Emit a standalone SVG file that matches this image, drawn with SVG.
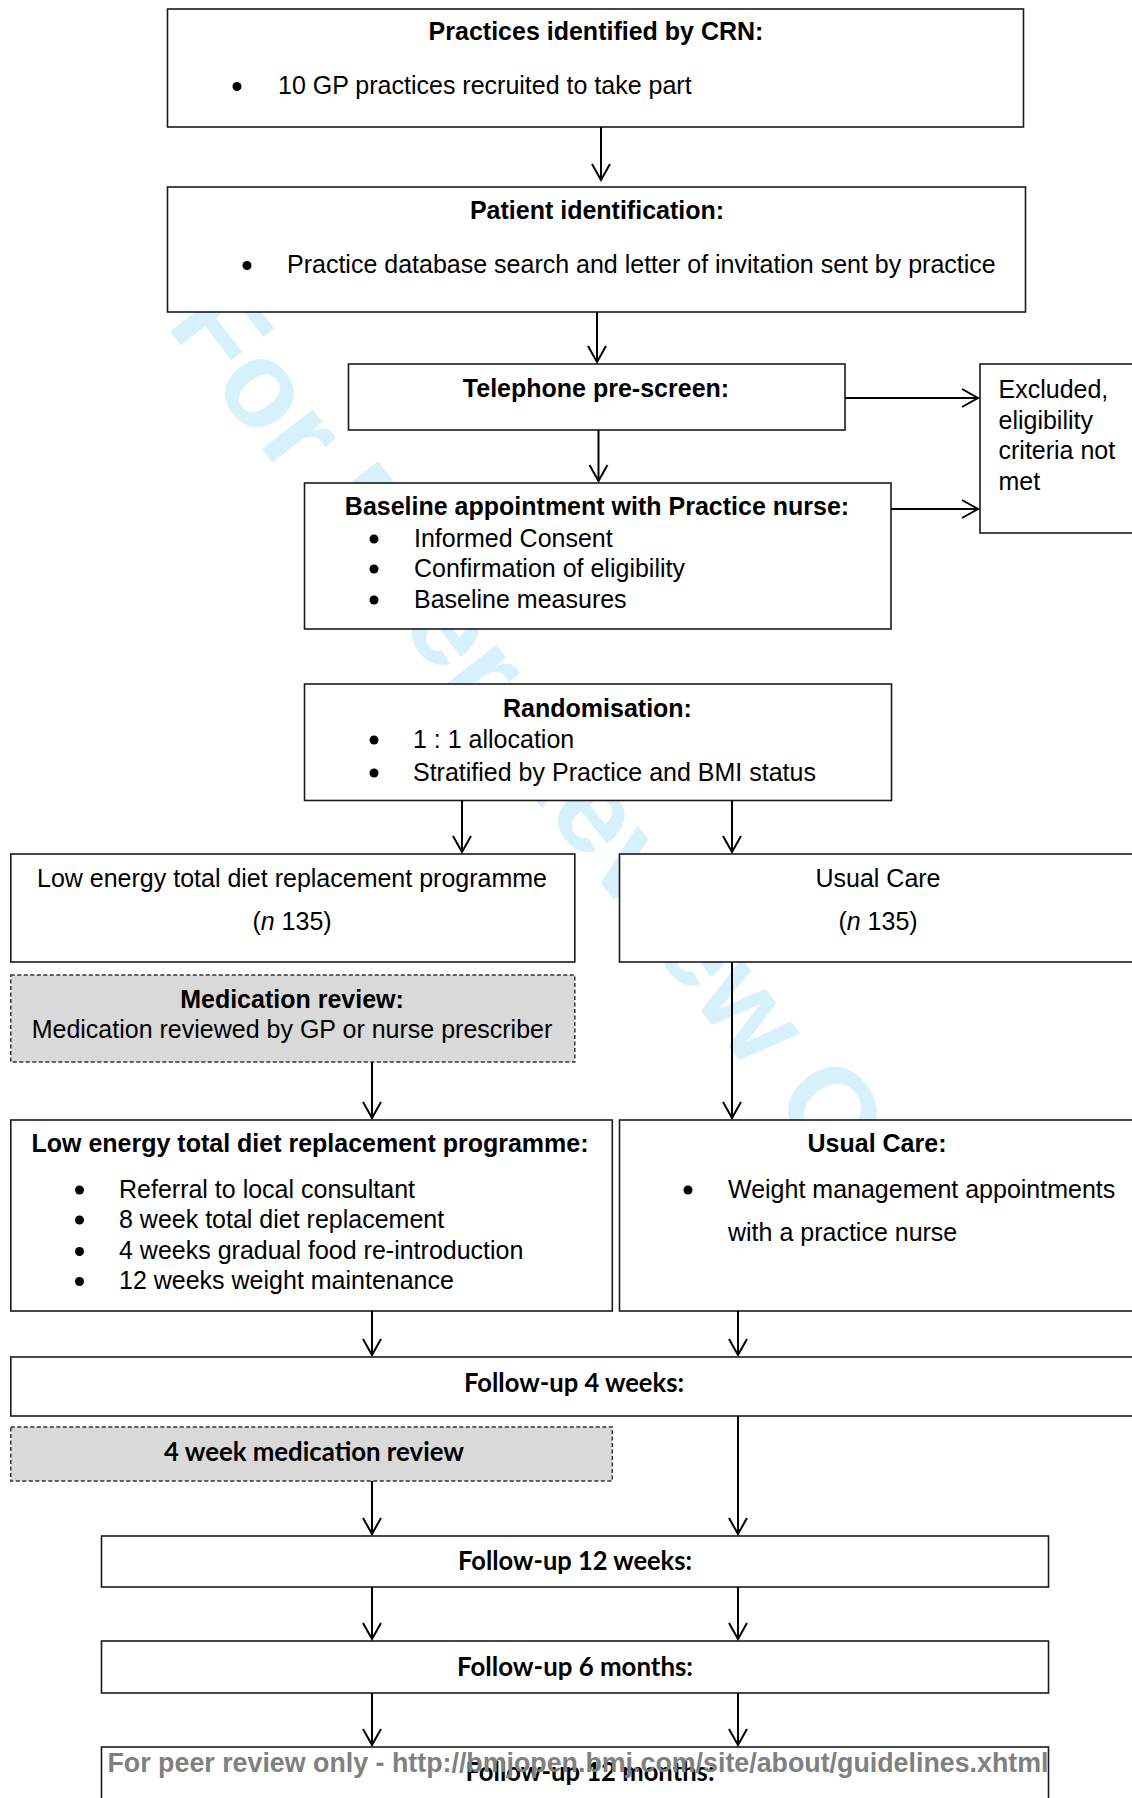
<svg xmlns="http://www.w3.org/2000/svg" width="1132" height="1798" viewBox="0 0 1132 1798">
<style>
.box{fill:#fff;stroke:#1a1a1a;stroke-width:1.6}
.dbox{fill:#d9d9d9;stroke:#333;stroke-width:1.5;stroke-dasharray:4 2.5}
.t{font-family:"Liberation Sans",Arial,sans-serif;font-size:25px;fill:#000}
.b{font-weight:bold}
.c{text-anchor:middle}
.cal{font-family:Lato,"Liberation Sans",sans-serif;font-weight:bold;font-size:26px;fill:#000;text-anchor:middle}
.bul{fill:#000}
.conn line{stroke:#000;stroke-width:2;fill:none;marker-end:url(#ah)}
.wm{font-family:"Liberation Sans",Arial,sans-serif;font-weight:bold;font-size:122px;fill:#d6f0fc}
.foot{font-family:"Liberation Sans",Arial,sans-serif;font-weight:bold;font-size:26.8px;fill:#808080;text-anchor:middle}
</style>
<defs>
<marker id="ah" markerUnits="userSpaceOnUse" markerWidth="20" markerHeight="22" viewBox="0 0 20 22" refX="18" refY="11" orient="auto">
<path d="M2,2 L18,11 L2,20" fill="none" stroke="#000" stroke-width="2"/>
</marker>
</defs>
<rect x="0" y="0" width="1132" height="1798" fill="#fff"/>
<text class="wm" transform="translate(165,325) rotate(52)">For Peer Review Only</text>

<g id="n1">
<rect class="box" x="167.5" y="9" width="856" height="118"/>
<text class="t b c" x="596" y="40">Practices identified by CRN:</text>
<circle class="bul" cx="237" cy="86.5" r="4.5"/>
<text class="t" x="278" y="94">10 GP practices recruited to take part</text>
</g>

<g id="n2">
<rect class="box" x="167.5" y="187" width="858" height="125"/>
<text class="t b c" x="597" y="219">Patient identification:</text>
<circle class="bul" cx="247" cy="265.5" r="4.5"/>
<text class="t" x="287" y="273">Practice database search and letter of invitation sent by practice</text>
</g>

<g id="n3">
<rect class="box" x="348.5" y="364" width="496.5" height="66"/>
<text class="t b c" x="596" y="397">Telephone pre-screen:</text>
</g>

<g id="n4">
<rect class="box" x="980" y="364" width="160" height="169"/>
<text class="t" x="998.5" y="398">Excluded,</text>
<text class="t" x="998.5" y="428.5">eligibility</text>
<text class="t" x="998.5" y="459">criteria not</text>
<text class="t" x="998.5" y="489.5">met</text>
</g>

<g id="n5">
<rect class="box" x="304.5" y="483" width="586.5" height="146"/>
<text class="t b c" x="597" y="515">Baseline appointment with Practice nurse:</text>
<circle class="bul" cx="374" cy="539" r="4.5"/>
<text class="t" x="414" y="546.5">Informed Consent</text>
<circle class="bul" cx="374" cy="569" r="4.5"/>
<text class="t" x="414" y="576.5">Confirmation of eligibility</text>
<circle class="bul" cx="374" cy="600" r="4.5"/>
<text class="t" x="414" y="607.5">Baseline measures</text>
</g>

<g id="n6">
<rect class="box" x="304.5" y="684" width="587" height="116.5"/>
<text class="t b c" x="597.5" y="717">Randomisation:</text>
<circle class="bul" cx="374" cy="740" r="4.5"/>
<text class="t" x="413" y="747.5">1 : 1 allocation</text>
<circle class="bul" cx="374" cy="773" r="4.5"/>
<text class="t" x="413" y="780.5">Stratified by Practice and BMI status</text>
</g>

<g id="n7">
<rect class="box" x="10.8" y="854" width="564" height="108"/>
<text class="t c" x="292" y="887">Low energy total diet replacement programme</text>
<text class="t c" x="292" y="930">(<tspan font-style="italic">n</tspan> 135)</text>
</g>

<g id="n8">
<rect class="box" x="619.5" y="854" width="520" height="108"/>
<text class="t c" x="878" y="887">Usual Care</text>
<text class="t c" x="878" y="930">(<tspan font-style="italic">n</tspan> 135)</text>
</g>

<g id="n9">
<rect class="dbox" x="10.8" y="975" width="564" height="87"/>
<text class="t b c" x="292" y="1008">Medication review:</text>
<text class="t c" x="292" y="1038">Medication reviewed by GP or nurse prescriber</text>
</g>

<g id="n10">
<rect class="box" x="10.8" y="1120" width="601.5" height="191"/>
<text class="t b c" x="310" y="1152">Low energy total diet replacement programme:</text>
<circle class="bul" cx="79.5" cy="1190" r="4.5"/>
<text class="t" x="119" y="1197.5">Referral to local consultant</text>
<circle class="bul" cx="79.5" cy="1220" r="4.5"/>
<text class="t" x="119" y="1227.5">8 week total diet replacement</text>
<circle class="bul" cx="79.5" cy="1251.5" r="4.5"/>
<text class="t" x="119" y="1259">4 weeks gradual food re-introduction</text>
<circle class="bul" cx="79.5" cy="1281.5" r="4.5"/>
<text class="t" x="119" y="1289">12 weeks weight maintenance</text>
</g>

<g id="n11">
<rect class="box" x="619.5" y="1120" width="520" height="191"/>
<text class="t b c" x="877" y="1152">Usual Care:</text>
<circle class="bul" cx="688" cy="1190" r="4.5"/>
<text class="t" x="728" y="1197.5">Weight management appointments</text>
<text class="t" x="728" y="1241">with a practice nurse</text>
</g>

<g id="n12">
<rect class="box" x="10.8" y="1357" width="1130" height="59"/>
<text class="cal" x="574" y="1392" textLength="220" lengthAdjust="spacingAndGlyphs">Follow-up 4 weeks:</text>
</g>

<g id="n13">
<rect class="dbox" x="10.8" y="1427" width="601.5" height="54"/>
<text class="cal" x="314" y="1461" textLength="300" lengthAdjust="spacingAndGlyphs">4 week medication review</text>
</g>

<g id="n14">
<rect class="box" x="101.5" y="1536" width="947" height="51"/>
<text class="cal" x="575" y="1570" textLength="234" lengthAdjust="spacingAndGlyphs">Follow-up 12 weeks:</text>
</g>

<g id="n15">
<rect class="box" x="101.5" y="1641" width="947" height="52"/>
<text class="cal" x="575" y="1676" textLength="236" lengthAdjust="spacingAndGlyphs">Follow-up 6 months:</text>
</g>

<g id="n16">
<rect class="box" x="101.5" y="1747" width="947" height="60"/>
<text class="cal" x="590" y="1781" textLength="249" lengthAdjust="spacingAndGlyphs">Follow-up 12 months:</text>
</g>

<g id="connectors" class="conn">
<line x1="601" y1="127" x2="601" y2="180"/>
<line x1="597" y1="312" x2="597" y2="362"/>
<line x1="598.5" y1="430" x2="598.5" y2="481"/>
<line x1="845" y1="398" x2="978" y2="398"/>
<line x1="891" y1="509" x2="978" y2="509"/>
<line x1="462" y1="800.5" x2="462" y2="852"/>
<line x1="732" y1="800.5" x2="732" y2="852"/>
<line x1="372" y1="1062" x2="372" y2="1118"/>
<line x1="732" y1="962" x2="732" y2="1118"/>
<line x1="372" y1="1311" x2="372" y2="1355"/>
<line x1="738" y1="1311" x2="738" y2="1355"/>
<line x1="372" y1="1481" x2="372" y2="1534"/>
<line x1="738" y1="1416" x2="738" y2="1534"/>
<line x1="372" y1="1587" x2="372" y2="1639"/>
<line x1="738" y1="1587" x2="738" y2="1639"/>
<line x1="372" y1="1693" x2="372" y2="1745"/>
<line x1="738" y1="1693" x2="738" y2="1745"/>
</g>

<text class="foot" x="578" y="1772">For peer review only - http://bmjopen.bmj.com/site/about/guidelines.xhtml</text>
</svg>
